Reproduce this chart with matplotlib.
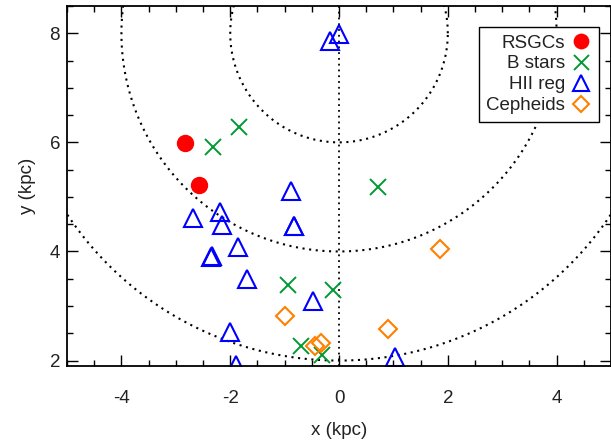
import numpy as np
import matplotlib.pyplot as plt
from matplotlib.ticker import MultipleLocator

plt.rcParams['font.family'] = ['Liberation Sans', 'DejaVu Sans']
plt.rcParams['axes.unicode_minus'] = False

# positions in kpc
rsgc_x = [-2.83, -2.57]
rsgc_y = [5.98, 5.21]

bstar_x = [-2.31, -1.83, 0.72, -0.94, -0.11, -0.70, -0.31]
bstar_y = [5.91, 6.29, 5.19, 3.39, 3.30, 2.26, 2.11]

hii_x = [0.0, -0.17, -0.88, -2.68, -2.18, -2.15, -0.83, -0.82, -1.85,
         -2.36, -2.34, -1.69, -0.48, -2.00, -1.90, 1.03]
hii_y = [7.98, 7.85, 5.10, 4.61, 4.73, 4.48, 4.46, 4.47, 4.09,
         3.89, 3.91, 3.49, 3.10, 2.53, 1.92, 2.07]

ceph_x = [1.85, -0.99, 0.90, -0.33, -0.44]
ceph_y = [4.04, 2.81, 2.57, 2.33, 2.26]

# galactocentric rings around (0, 8)
ring_r = [2, 4, 6]
ring_cx, ring_cy = 0.0, 8.0

txtcol = '#222222'

fig = plt.figure(figsize=(6.11, 4.41), dpi=100)
ax = fig.add_axes([0.1097, 0.170, 0.8903, 0.8164])

t = np.linspace(0, 2 * np.pi, 1000)
for r in ring_r:
    ax.plot(ring_cx + r * np.cos(t), ring_cy + r * np.sin(t),
            color='black', lw=1.5, ls=(0, (1, 2.2)))
ax.plot([0, 0], [1.9, 8.5], color='black', lw=1.3, ls=(0, (1, 2.2)))

ax.plot(rsgc_x, rsgc_y, 'o', color='red', ms=11.5, ls='none', label='RSGCs')
ax.plot(bstar_x, bstar_y, 'x', color='#009933', ms=12, mew=1.4, ls='none', label='B stars')
ax.plot(hii_x, hii_y, '^', mfc='none', mec='blue', ms=13, mew=1.5, ls='none', label='HII reg')
ax.plot(ceph_x, ceph_y, 'D', mfc='none', mec='#ff8000', ms=9, mew=1.5, ls='none', label='Cepheids')

ax.set_xlim(-5, 5)
ax.set_ylim(1.9, 8.5)
ax.xaxis.set_major_locator(MultipleLocator(2))
ax.xaxis.set_minor_locator(MultipleLocator(0.5))
ax.yaxis.set_major_locator(MultipleLocator(2))
ax.yaxis.set_minor_locator(MultipleLocator(0.5))
ax.tick_params(which='both', direction='in', top=True, right=True,
               labelsize=13.5, labelcolor=txtcol, width=1)
ax.tick_params(which='major', length=8)
ax.tick_params(which='minor', length=4)
ax.tick_params(axis='x', which='major', pad=17)
ax.tick_params(axis='y', which='major', pad=5)
for s in ax.spines.values():
    s.set_linewidth(1.3)

ax.set_xlabel('x (kpc)', fontsize=13.5, color=txtcol, labelpad=11)
ax.set_ylabel('y (kpc)', fontsize=13.5, color=txtcol, labelpad=10)

leg = ax.legend(loc='upper right', bbox_to_anchor=(599 / 611, 1 - 27 / 441),
                bbox_transform=fig.transFigure, borderaxespad=0,
                markerfirst=False, fontsize=13.5, fancybox=False,
                edgecolor='black', framealpha=1, handletextpad=0.3, borderpad=0.4,
                labelspacing=0.2, handlelength=1.1, markerscale=0.9)
leg.get_frame().set_linewidth(1)
for txt in leg.get_texts():
    txt.set_ha('right')
    txt.set_color(txtcol)

fig.savefig('out.png', dpi=100)
